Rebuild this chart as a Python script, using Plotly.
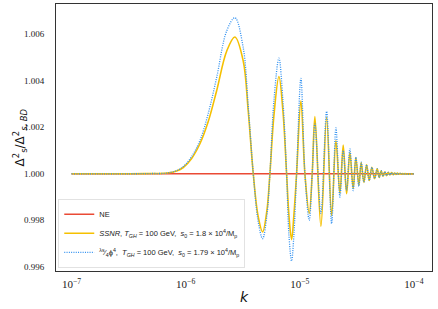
import plotly.graph_objects as go

# wavenumber samples
k_vals = [1e-7, 3.25e-7, 4.86e-7, 6.83e-7, 8.34e-7, 9.53e-7, 1.128e-6, 1.333e-6,
          1.566e-6, 1.868e-6, 2.286e-6, 2.70e-6, 3.19e-6, 3.53e-6, 3.91e-6, 4.30e-6,
          4.72e-6, 5.15e-6, 5.47e-6, 5.93e-6, 6.56e-6, 7.11e-6, 7.66e-6, 8.03e-6,
          8.47e-6, 8.87e-6, 9.37e-6, 1.022e-5, 1.108e-5, 1.209e-5, 1.284e-5, 1.356e-5,
          1.530e-5, 1.716e-5, 1.899e-5, 2.071e-5, 2.245e-5, 2.399e-5, 2.569e-5, 2.745e-5,
          2.934e-5, 3.098e-5, 3.291e-5, 3.448e-5, 3.640e-5, 3.846e-5, 4.052e-5, 4.278e-5,
          4.519e-5, 4.762e-5, 4.96e-5, 5.16e-5, 5.36e-5, 5.56e-5, 5.76e-5, 5.96e-5,
          6.16e-5, 6.36e-5, 6.56e-5, 6.76e-5, 6.96e-5, 7.16e-5, 7.36e-5, 7.56e-5,
          7.76e-5, 7.96e-5, 8.16e-5, 8.36e-5, 8.56e-5, 1e-4]

ssnr_vals = [1.0, 1.0, 1.00001, 1.00003, 1.00012, 1.00027, 1.00066, 1.00129,
             1.00220, 1.00357, 1.00527, 1.00588, 1.00486, 1.00271, 1.0, 0.99821,
             0.99750, 0.99843, 1.0, 1.00250, 1.00418, 1.00271, 1.0, 0.99821,
             0.99717, 0.99821, 1.0, 1.00314, 1.0, 0.99830, 1.0, 1.00246,
             0.99774, 1.00243, 0.99821, 1.00143, 0.99916, 1.00124, 0.99914, 1.00091,
             0.99937, 1.00070, 0.99950, 1.00048, 0.99963, 1.00039, 0.99971, 1.00028,
             0.99979, 1.00021, 0.99984, 1.00013, 0.99989, 1.00009, 0.99992, 1.00006,
             0.99995, 1.00005, 0.99996, 1.00003, 0.99997, 1.00003, 0.99998, 1.00002,
             0.99998, 1.00001, 0.99999, 1.00001, 0.99999, 1.0]

phi4_vals = [1.0, 1.0, 1.00001, 1.00003, 1.00014, 1.00031, 1.00074, 1.00143,
             1.00254, 1.00414, 1.00614, 1.00671, 1.00543, 1.00293, 1.0, 0.99800,
             0.99721, 0.99821, 1.0, 1.00314, 1.00497, 1.00314, 1.0, 0.99736,
             0.99625, 0.99736, 1.0, 1.00410, 1.0, 0.99800, 1.0, 1.00216,
             0.99830, 1.00268, 0.99786, 1.00197, 0.99900, 1.00100, 0.99929, 1.00107,
             0.99928, 1.00071, 0.99946, 1.00050, 0.99964, 1.00039, 0.99971, 1.00028,
             0.99979, 1.00021, 0.99984, 1.00013, 0.99989, 1.00009, 0.99992, 1.00006,
             0.99995, 1.00005, 0.99996, 1.00003, 0.99997, 1.00003, 0.99998, 1.00002,
             0.99998, 1.00001, 0.99999, 1.00001, 0.99999, 1.0]

ne_k = [1e-7, 1e-4]
ne_vals = [1.0, 1.0]

x_tickvals = [1e-7, 1e-6, 1e-5, 1e-4]
x_ticktext = ["10<sup>−7</sup>", "10<sup>−6</sup>", "10<sup>−5</sup>", "10<sup>−4</sup>"]
y_tickvals = [0.996, 0.998, 1.000, 1.002, 1.004, 1.006]
y_ticktext = ["0.996", "0.998", "1.000", "1.002", "1.004", "1.006"]

names = [
    "NE",
    "<i>SSNR</i>, <i>T<sub>GH</sub></i> = 100 GeV,  <i>s</i><sub>0</sub> = 1.8 × 10<sup>4</sup>/M<sub>p</sub>",
    "<sup>λs</sup>⁄<sub>4</sub>ϕ<sup>4</sup>,  <i>T<sub>GH</sub></i> = 100 GeV,  <i>s</i><sub>0</sub> = 1.79 × 10<sup>4</sup>/M<sub>p</sub>",
]

fig = go.Figure()
fig.add_trace(go.Scatter(x=ne_k, y=ne_vals, mode="lines", name=names[0],
                         line=dict(color="#ea4a35", width=1.4)))
fig.add_trace(go.Scatter(x=k_vals, y=ssnr_vals, mode="lines", name=names[1],
                         line=dict(color="#f5c000", width=1.6, shape="spline", smoothing=1.0)))
fig.add_trace(go.Scatter(x=k_vals, y=phi4_vals, mode="lines", name=names[2],
                         line=dict(color="#2e8ff0", width=1.3, dash="1px,1.3px",
                                   shape="spline", smoothing=1.0)))

fig.update_layout(
    width=438, height=309,
    margin=dict(l=56, r=6, t=4, b=38),
    paper_bgcolor="white", plot_bgcolor="white",
    font=dict(family="Liberation Sans", color="#222"),
    showlegend=True,
    legend=dict(x=0.006, y=0.012, xanchor="left", yanchor="bottom",
                bgcolor="rgba(255,255,255,0.85)", bordercolor="#e2e2e2", borderwidth=1,
                font=dict(family="Liberation Sans", size=7.5, color="#222"),
                tracegroupgap=0, itemwidth=30),
    xaxis=dict(type="log", range=[-7.136, -3.842],
               tickvals=x_tickvals, ticktext=x_ticktext,
               tickfont=dict(family="Liberation Serif", size=11, color="#222"),
               showgrid=False, zeroline=False, showline=True, mirror=True,
               linecolor="#333", linewidth=1,
               ticks="outside", ticklen=3, tickcolor="rgba(0,0,0,0)"),
    yaxis=dict(range=[0.99582, 1.0073],
               tickvals=y_tickvals, ticktext=y_ticktext,
               tickfont=dict(family="Liberation Serif", size=9, color="#222"),
               showgrid=False, zeroline=False, showline=True, mirror=True,
               linecolor="#333", linewidth=1,
               ticks="outside", ticklen=9, tickcolor="rgba(0,0,0,0)"),
    annotations=[
        dict(text="Δ<sup>2</sup><sub>s</sub>/Δ<sup>2</sup><sub><i>s, BD</i></sub>",
             xref="paper", yref="paper", x=-0.096, y=0.5, textangle=-90,
             showarrow=False, font=dict(family="DejaVu Sans", size=12, color="#111"),
             xanchor="center", yanchor="middle"),
        dict(text="<i>k</i>", xref="paper", yref="paper", x=0.5, y=-0.097,
             showarrow=False, font=dict(family="DejaVu Sans", size=14, color="#111"),
             xanchor="center", yanchor="middle"),
    ],
)

fig.write_html("out.html", config={"displayModeBar": False})

# remove the browser's default page margin so the 438x309 figure fits the window
with open("out.html", "r", encoding="utf-8") as f:
    html = f.read()
html = html.replace("<head>", "<head><style>html,body{margin:0;padding:0;overflow:hidden;}</style>", 1)
with open("out.html", "w", encoding="utf-8") as f:
    f.write(html)
